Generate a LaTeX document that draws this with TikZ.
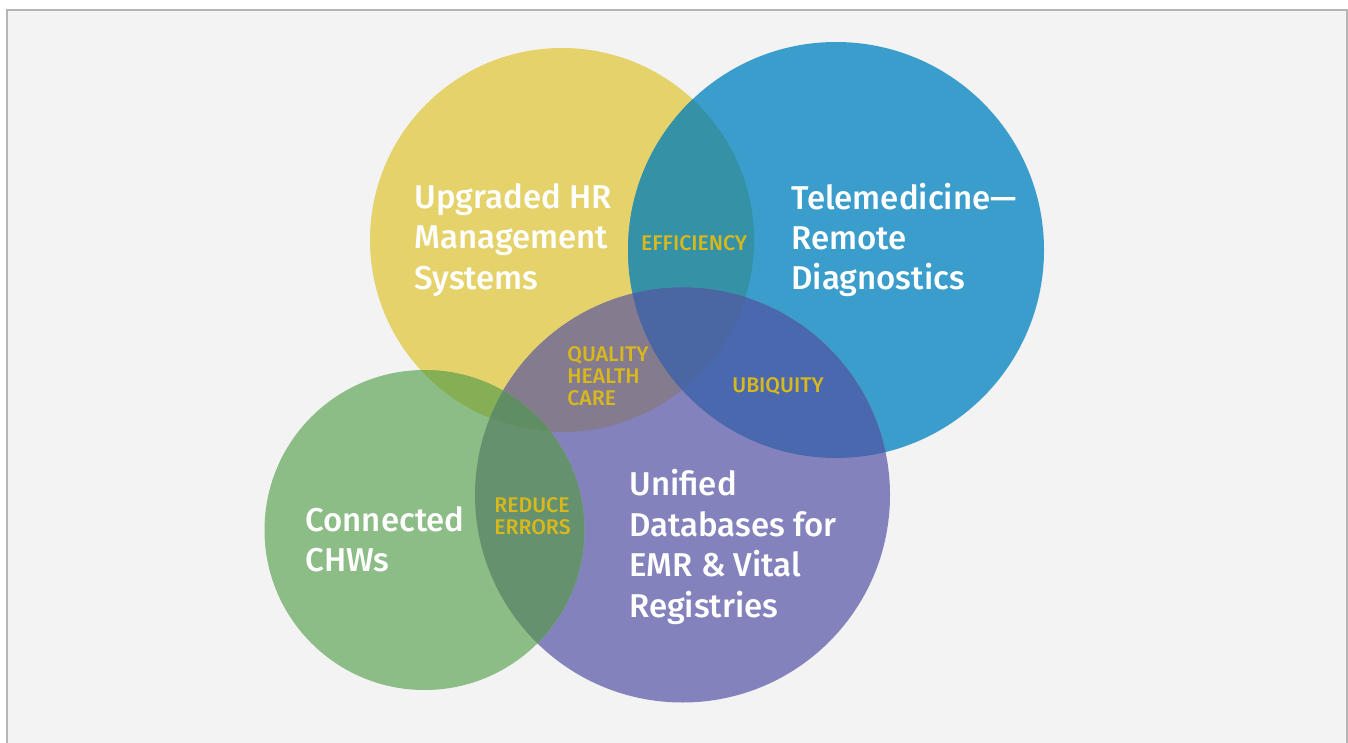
\documentclass[tikz,border=0pt]{standalone}
\usepackage{fontspec}
\setmainfont{Fira Sans}
\newfontfamily\fmed{Fira Sans Medium}
\definecolor{bgc}{HTML}{F2F3F2}
\definecolor{framec}{HTML}{B5B5B5}
\definecolor{cY}{HTML}{E5D26A}
\definecolor{cB}{HTML}{3A9DCC}
\definecolor{cP}{HTML}{8482BC}
\definecolor{cG}{HTML}{8CBD86}
\definecolor{cYB}{HTML}{3592A6}
\definecolor{cYP}{HTML}{857B8F}
\definecolor{cBP}{HTML}{4A68AE}
\definecolor{cYBP}{HTML}{4A66A3}
\definecolor{cGP}{HTML}{66916F}
\definecolor{cGY}{HTML}{86AE55}
\definecolor{cGYP}{HTML}{5F8E65}
\definecolor{labc}{HTML}{D9B81C}
\tikzset{
  big/.style={font=\fmed\fontsize{16.5}{20.2}\selectfont, text=white, align=left, inner sep=0pt, anchor=west},
  small/.style={font=\fmed\fontsize{10.6}{11}\selectfont, text=labc, align=left, inner sep=0pt}
}
\begin{document}
\begin{tikzpicture}[x=0.5pt,y=-0.5pt]
\useasboundingbox (0,0) rectangle (1348,743);
\fill[white] (0,0) rectangle (1348,743);
\fill[bgc,draw=framec,line width=1.2pt] (7,10) rectangle (1347,780);
\def\cy{(562,240) circle[radius=192]}
\def\cb{(836,250) circle[radius=208]}
\def\cp{(682.5,495) circle[radius=207.5]}
\def\cg{(424.5,530) circle[radius=160]}
% base circles
\fill[cY] \cy;
\fill[cB] \cb;
\fill[cP] \cp;
\fill[cG] \cg;
% pairwise overlaps
\begin{scope}\clip \cy; \fill[cYB] \cb; \end{scope}
\begin{scope}\clip \cy; \fill[cYP] \cp; \end{scope}
\begin{scope}\clip \cb; \fill[cBP] \cp; \end{scope}
\begin{scope}\clip \cg; \fill[cGP] \cp; \end{scope}
\begin{scope}\clip \cg; \fill[cGY] \cy; \end{scope}
% triple overlaps
\begin{scope}\clip \cy; \clip \cb; \fill[cYBP] \cp; \end{scope}
\begin{scope}\clip \cg; \clip \cy; \fill[cGYP] \cp; \end{scope}
% main labels
\node[big] (hr) at (414,240) {Upgraded HR\\Management\\Systems};
\node[big] (tele) at (791,240) {Telemedicine—\\Remote\\Diagnostics};
\node[big] (uni) at (629,547) {Unified\\Databases for\\EMR \& Vital\\Registries};
\node[big] (chw) at (305,539) {Connected\\CHWs};
% overlap labels
\node[small] (eff) at (694,243) {EFFICIENCY};
\node[small,anchor=west] (qhc) at (567,376) {QUALITY\\HEALTH\\CARE};
\node[small] (ubi) at (778,386) {UBIQUITY};
\node[small,anchor=west] (red) at (494,516) {REDUCE\\ERRORS};
\end{tikzpicture}
\end{document}
